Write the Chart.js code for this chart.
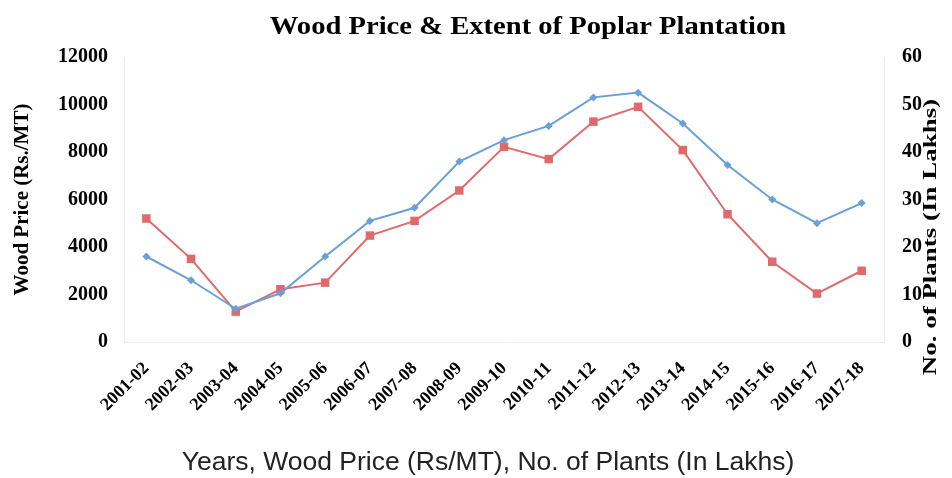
<!DOCTYPE html>
<html>
<head>
<meta charset="utf-8">
<script src="https://cdn.jsdelivr.net/npm/chart.js@4.4.1/dist/chart.umd.min.js"></script>
<style>
  html, body { margin: 0; padding: 0; background: #fff; }
  #wrap { width: 952px; height: 478px; position: relative; }
</style>
</head>
<body>
<div id="wrap"><canvas id="c" width="952" height="478"></canvas></div>
<script>
// Financial years on the x axis
const years = ['2001-02','2002-03','2003-04','2004-05','2005-06','2006-07','2007-08','2008-09',
  '2009-10','2010-11','2011-12','2012-13','2013-14','2014-15','2015-16','2016-17','2017-18'];

// Wood price, Rs per metric tonne (left axis)
const woodPrice = [3600, 2600, 1400, 2050, 3600, 5100, 5650, 7600,
  8500, 9100, 10300, 10500, 9200, 7450, 6000, 5000, 5850];

// Number of poplar plants, in lakhs (right axis)
const plants = [26.0, 17.5, 6.4, 11.1, 12.5, 22.4, 25.5, 31.9,
  41.1, 38.5, 46.4, 49.5, 40.4, 26.9, 16.9, 10.2, 15.0];

const chartTitle = 'Wood Price & Extent of Poplar Plantation';
const leftTitle = 'Wood Price (Rs./MT)';
const rightTitle = 'No. of Plants (In Lakhs)';
const captionText = 'Years, Wood Price (Rs/MT), No. of Plants (In Lakhs)';

const serif = '"Liberation Serif", "Times New Roman", serif';
const sans = '"Liberation Sans", Arial, sans-serif';
const blue = '#6a9fd8';
const red = '#e06a6b';
const axisLine = '#ececec';

// Free-standing texts: chart title, right axis title (reading upwards) and caption
const textPlugin = {
  id: 'freeTexts',
  afterDraw(chart) {
    const ctx = chart.ctx;
    ctx.save();
    ctx.fillStyle = '#000';
    ctx.textAlign = 'center';
    ctx.textBaseline = 'middle';

    ctx.save();
    ctx.translate(528, 27);
    ctx.scale(1.1, 1);
    ctx.font = 'bold 26px ' + serif;
    ctx.fillText(chartTitle, 0, 0);
    ctx.restore();

    ctx.save();
    ctx.translate(931, 237);
    ctx.rotate(-Math.PI / 2);
    ctx.scale(1.42, 1);
    ctx.font = 'bold 19px ' + serif;
    ctx.fillText(rightTitle, 0, 0);
    ctx.restore();

    ctx.fillStyle = '#222';
    ctx.font = '26.5px ' + sans;
    ctx.fillText(captionText, 488, 463);
    ctx.restore();
  }
};

new Chart(document.getElementById('c'), {
  type: 'line',
  data: {
    labels: years,
    datasets: [
      {
        label: 'Wood Price (Rs/MT)',
        data: woodPrice,
        yAxisID: 'yPrice',
        borderColor: blue,
        backgroundColor: blue,
        borderWidth: 2,
        pointStyle: 'rectRot',
        pointRadius: 4,
        pointBorderWidth: 0,
        tension: 0
      },
      {
        label: 'No. of Plants (In Lakhs)',
        data: plants,
        yAxisID: 'yPlants',
        borderColor: red,
        backgroundColor: red,
        borderWidth: 2,
        pointStyle: 'rect',
        pointRadius: 6,
        pointBorderWidth: 0,
        tension: 0
      }
    ]
  },
  options: {
    responsive: false,
    animation: false,
    layout: { padding: { top: 57, left: 0, right: 0, bottom: 0 } },
    plugins: {
      legend: { display: false },
      tooltip: { enabled: false },
      title: { display: false }
    },
    scales: {
      x: {
        offset: true,
        grid: { display: false, drawTicks: false },
        border: { display: true, color: axisLine, width: 1 },
        ticks: {
          color: '#000',
          font: { family: serif, size: 18, weight: 'bold' },
          minRotation: 45,
          maxRotation: 45,
          padding: 16,
          autoSkip: false
        },
        afterFit(scale) { scale.height = 136; }
      },
      yPrice: {
        position: 'left',
        min: 0,
        max: 12000,
        grid: { display: false, drawTicks: false },
        border: { display: true, color: axisLine, width: 1 },
        ticks: {
          stepSize: 2000,
          color: '#000',
          font: { family: serif, size: 20, weight: 'bold' },
          padding: 16,
          callback: (v) => String(v)
        },
        title: {
          display: true,
          text: leftTitle,
          color: '#000',
          font: { family: serif, size: 21, weight: 'bold' },
          padding: { top: 10, bottom: 0 }
        },
        afterFit(scale) { scale.width = 124; }
      },
      yPlants: {
        position: 'right',
        min: 0,
        max: 60,
        grid: { display: false, drawTicks: false },
        border: { display: true, color: axisLine, width: 1 },
        ticks: {
          stepSize: 10,
          color: '#000',
          font: { family: serif, size: 20, weight: 'bold' },
          padding: 18
        },
        afterFit(scale) { scale.width = 68; }
      }
    }
  },
  plugins: [textPlugin]
});
</script>
</body>
</html>
